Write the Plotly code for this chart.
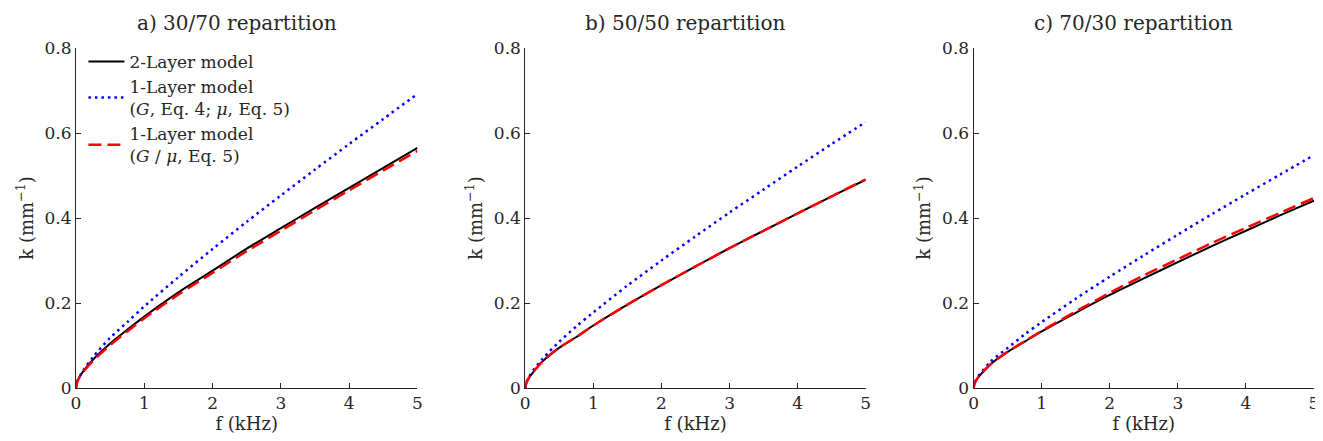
import plotly.graph_objects as go

# ---------------- data ----------------
freq = [0, 0.02, 0.05, 0.1, 0.25, 0.5, 0.75, 1, 1.5, 2, 2.5, 3, 3.5, 4, 4.5, 5]

titles = ["a) 30/70 repartition", "b) 50/50 repartition", "c) 70/30 repartition"]

# panel a) 30/70
a_two_layer = [0, 0.0155, 0.026, 0.038, 0.067, 0.105, 0.137, 0.168, 0.225, 0.276, 0.328, 0.376, 0.424, 0.471, 0.518, 0.565]
a_one_layer_eq4 = [0, 0.016, 0.026, 0.040, 0.073, 0.118, 0.155, 0.192, 0.261, 0.327, 0.391, 0.453, 0.514, 0.574, 0.633, 0.692]
a_one_layer_eq5 = [0, 0.015, 0.025, 0.037, 0.064, 0.101, 0.133, 0.164, 0.220, 0.271, 0.322, 0.370, 0.418, 0.465, 0.512, 0.558]

# panel b) 50/50
b_two_layer = [0, 0.014, 0.023, 0.034, 0.062, 0.095, 0.120, 0.147, 0.196, 0.242, 0.286, 0.329, 0.370, 0.411, 0.451, 0.490]
b_one_layer_eq4 = [0, 0.015, 0.025, 0.038, 0.068, 0.109, 0.145, 0.178, 0.241, 0.300, 0.357, 0.413, 0.467, 0.521, 0.574, 0.626]
b_one_layer_eq5 = [0, 0.014, 0.023, 0.034, 0.062, 0.095, 0.120, 0.147, 0.196, 0.242, 0.286, 0.329, 0.370, 0.411, 0.451, 0.491]

# panel c) 70/30
c_two_layer = [0, 0.0125, 0.021, 0.031, 0.056, 0.085, 0.109, 0.133, 0.177, 0.219, 0.258, 0.296, 0.334, 0.370, 0.406, 0.441]
c_one_layer_eq4 = [0, 0.013, 0.022, 0.034, 0.062, 0.094, 0.126, 0.155, 0.210, 0.262, 0.312, 0.361, 0.409, 0.456, 0.502, 0.548]
c_one_layer_eq5 = [0, 0.0125, 0.021, 0.031, 0.056, 0.085, 0.110, 0.134, 0.180, 0.224, 0.265, 0.303, 0.341, 0.377, 0.412, 0.447]

x_ticks = [0, 1, 2, 3, 4, 5]
y_ticks = [0, 0.2, 0.4, 0.6, 0.8]
y_tick_labels = ["0", "0.2", "0.4", "0.6", "0.8"]

legend_names = [
    "2-Layer model",
    "1-Layer model<br>(<i>G</i>, Eq. 4; <i>μ</i>, Eq. 5)",
    "1-Layer model<br>(<i>G</i> / <i>μ</i>, Eq. 5)",
]

panels = [
    (a_two_layer, a_one_layer_eq4, a_one_layer_eq5),
    (b_two_layer, b_one_layer_eq4, b_one_layer_eq5),
    (c_two_layer, c_one_layer_eq4, c_one_layer_eq5),
]

# ---------------- layout geometry ----------------
W, H = 1323, 441
ML, MR, MT, MB = 68, 15, 40, 61
plot_w = W - ML - MR
px_domains = [(68, 410), (518, 859), (967, 1308)]
domains = [((a - ML) / plot_w, (b - ML) / plot_w) for a, b in px_domains]

FONT = "DejaVu Serif"
AX = "#262626"

fig = go.Figure()

styles = [
    dict(color="black", width=2, dash="solid"),
    dict(color="blue", width=2.5, dash="2.5px,4px"),
    dict(color="red", width=2.5, dash="13px,6px"),
]

for i, series in enumerate(panels):
    xa = "x" if i == 0 else f"x{i+1}"
    ya = "y" if i == 0 else f"y{i+1}"
    for j, ys in enumerate(series):
        fig.add_trace(go.Scatter(
            x=freq, y=ys, mode="lines", line=dict(shape="spline", smoothing=0.8, **styles[j]),
            name=legend_names[j], showlegend=(i == 0), xaxis=xa, yaxis=ya,
        ))

axis_common = dict(
    showgrid=False, zeroline=False, showline=True, linecolor=AX, linewidth=1,
    ticks="inside", ticklen=5, tickcolor=AX, tickwidth=1,
    tickfont=dict(family=FONT, size=17, color=AX),
    title_font=dict(family=FONT, size=18, color=AX),
    mirror=False,
)

layout = dict(
    width=W, height=H,
    margin=dict(l=ML, r=MR, t=MT, b=MB),
    paper_bgcolor="white", plot_bgcolor="white",
    font=dict(family=FONT, color=AX),
    legend=dict(
        x=0.006, y=1.012, xanchor="left", yanchor="top",
        bgcolor="rgba(0,0,0,0)", borderwidth=0,
        font=dict(family=FONT, size=17, color=AX),
        tracegroupgap=0, valign="middle", itemwidth=36,
    ),
    annotations=[],
)

for i in range(3):
    xk = "xaxis" if i == 0 else f"xaxis{i+1}"
    yk = "yaxis" if i == 0 else f"yaxis{i+1}"
    xa_anchor = "y" if i == 0 else f"y{i+1}"
    ya_anchor = "x" if i == 0 else f"x{i+1}"
    layout[xk] = dict(
        axis_common, domain=list(domains[i]), anchor=xa_anchor, range=[0, 5],
        tickvals=x_ticks, ticktext=[str(t) for t in x_ticks],
        title=dict(text="f (kHz)", standoff=2),
    )
    layout[yk] = dict(
        axis_common, domain=[0, 1], anchor=ya_anchor, range=[0, 0.8],
        tickvals=y_ticks, ticktext=y_tick_labels,
        title=dict(text="k (mm<sup>−1</sup>)", standoff=6),
    )
    layout["annotations"].append(dict(
        text=titles[i], xref="paper", yref="paper",
        x=(domains[i][0] + domains[i][1]) / 2, y=1, xanchor="center", yanchor="bottom",
        xshift=-10, yshift=12, borderpad=0, showarrow=False,
        font=dict(family=FONT, size=20, color=AX),
    ))

fig.update_layout(**layout)
fig.write_html("out.html")
